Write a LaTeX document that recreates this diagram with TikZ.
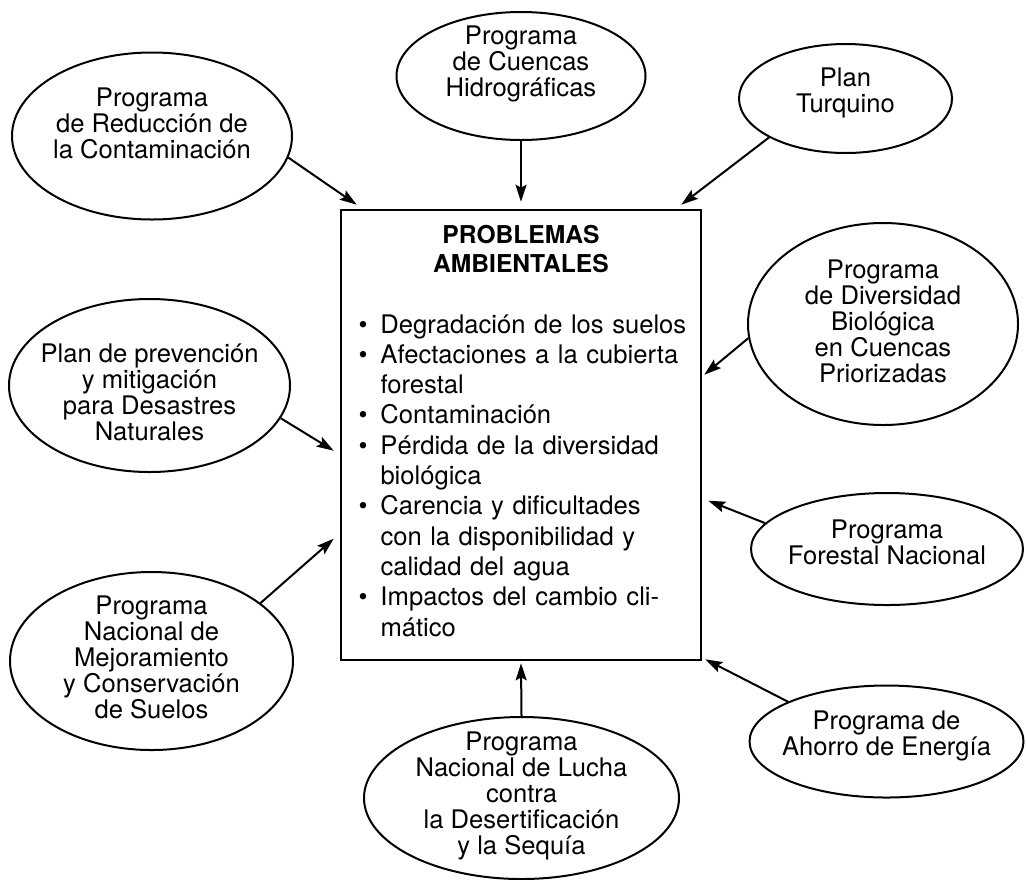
\documentclass[tikz,border=0pt]{standalone}
\usepackage{fontspec}
\setmainfont{TeX Gyre Heros}
\usetikzlibrary{shapes.geometric,arrows.meta,positioning}

\newcommand{\blt}{\makebox[11pt][l]{\textbullet}}
\newcommand{\indt}{\hspace*{11pt}}
\newcommand{\fullline}[1]{\makebox[151.5pt][s]{#1}}
\newcommand{\titleline}[1]{\makebox[162.5pt]{\fontsize{12.3}{14.5}\selectfont\bfseries #1}}

\tikzset{
  prog/.style 2 args={draw, ellipse, line width=1pt, inner sep=0pt,
    minimum width=#1pt, minimum height=#2pt},
  ptext/.style={align=center, inner sep=0pt, font=\fontsize{12.8}{13}\selectfont},
  probbox/.style={draw, line width=1.3pt, minimum width=180pt, minimum height=225pt, inner sep=0pt},
  probtext/.style={text width=162.5pt, inner sep=0pt, align=left, font=\fontsize{12.8}{15.15}\selectfont},
  arr/.style={line width=1pt, -{Stealth[length=8.5pt,width=5.5pt,inset=1.5pt]}}
}

\begin{document}
\begin{tikzpicture}[x=0.5pt,y=-0.5pt]
  \useasboundingbox (0,0) rectangle (1026,879);

  % central box
  \node[probbox] (prob) at (521,435) {};
  \node[probtext, below=8pt of prob.north] (probtxt) {%
    \titleline{PROBLEMAS}\\[-0.6pt]
    \titleline{AMBIENTALES}\\[15.15pt]
    \blt\fullline{Degradación de los suelos}\\
    \blt\fullline{Afectaciones a la cubierta}\\
    \indt forestal\\
    \blt Contaminación\\
    \blt\fullline{Pérdida de la diversidad}\\
    \indt biológica\\
    \blt\fullline{Carencia y dificultades}\\
    \indt\fullline{con la disponibilidad y}\\
    \indt calidad del agua\\
    \blt\fullline{Impactos del cambio cli-}\\
    \indt mático};

  % programas
  \node[prog={140}{83.5}, label={[ptext,yshift=6.25pt]center:Programa\\de Reducción de\\la Contaminación}] (reduc) at (152,136) {};
  \node[prog={124.5}{64}, label={[ptext,yshift=6pt]center:Programa\\de Cuencas\\Hidrográficas}] (cuencas) at (521,76) {};
  \node[prog={106.5}{54.5}, label={[ptext,yshift=3pt]center:Plan\\Turquino}] (turq) at (845.5,98.5) {};
  \node[prog={135}{101}, label={[ptext,yshift=1.25pt]center:Programa\\de Diversidad\\Biológica\\en Cuencas\\Priorizadas}] (divers) at (883,324) {};
  \node[prog={140.5}{86.5}, label={[ptext,yshift=-3.25pt]center:Plan de prevención\\y mitigación\\para Desastres\\Naturales}] (desast) at (149.5,385.5) {};
  \node[prog={136}{56}, label={[ptext,yshift=3.25pt]center:Programa\\Forestal Nacional}] (forest) at (887,549) {};
  \node[prog={141.5}{89}, label={[ptext,yshift=1.75pt]center:Programa\\Nacional de\\Mejoramiento\\y Conservación\\de Suelos}] (suelos) at (151.5,661) {};
  \node[prog={157.5}{81}, label={[ptext,yshift=1.25pt]center:Programa\\Nacional de Lucha\\contra\\la Desertificación\\y la Sequía}] (sequia) at (521.5,798) {};
  \node[prog={137}{56}, label={[ptext,yshift=3pt]center:Programa de\\Ahorro de Energía}] (energia) at (886.5,741.5) {};

  % arrow ends on the box
  \coordinate (e1) at ([shift={(17,-4)}]prob.north west);
  \coordinate (e2) at ([shift={(0,-7)}]prob.north);
  \coordinate (e3) at ([shift={(-21,-4)}]prob.north east);
  \coordinate (e4) at ([shift={(2,166)}]prob.north east);
  \coordinate (e5) at ([shift={(6,292)}]prob.north east);
  \coordinate (e6) at ([shift={(-6,242)}]prob.north west);
  \coordinate (e7) at ([shift={(-6,330)}]prob.north west);
  \coordinate (e8) at ([shift={(0,2)}]prob.south);
  \coordinate (e9) at ([shift={(3,-2)}]prob.south east);

  \draw[arr] (reduc.-9) -- (e1);
  \draw[arr] (cuencas.south) -- (e2);
  \draw[arr] (turq.207) -- (e3);
  \draw[arr] (divers.186) -- (e4);
  \draw[arr] (forest.168) -- (e5);
  \draw[arr] (desast.-14) -- (e6);
  \draw[arr] (suelos.28) -- (e7);
  \draw[arr] (sequia.north) -- (e8);
  \draw[arr] (energia.158) -- (e9);
\end{tikzpicture}
\end{document}
